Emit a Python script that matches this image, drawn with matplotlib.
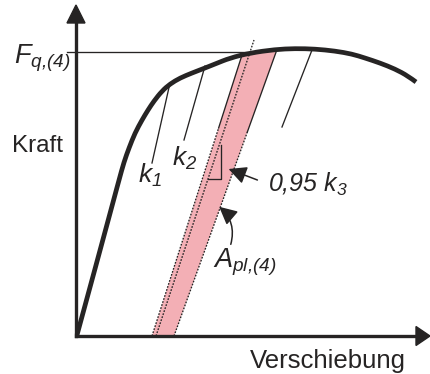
import matplotlib
matplotlib.use("Agg")
import matplotlib.pyplot as plt
import numpy as np
from matplotlib.path import Path
from matplotlib.patches import PathPatch, Polygon, FancyArrowPatch

plt.rcParams["font.family"] = ["Liberation Sans", "DejaVu Sans"]
plt.rcParams["mathtext.fontset"] = "custom"
plt.rcParams["mathtext.it"] = "Liberation Sans:italic"
plt.rcParams["mathtext.rm"] = "Liberation Sans:italic"
plt.rcParams["mathtext.default"] = "it"

# Force-displacement curve (displacement, force) in drawing units
curve_u = [1, 22, 43, 48, 53, 59, 66, 72, 78, 86, 94, 104, 116, 129, 139, 154,
           174, 199, 219, 239, 259, 276, 289, 304, 319, 332, 340]
curve_v = [1, 78, 156, 174, 188, 203, 216, 226, 235, 245, 252, 258, 263, 268,
           272, 278, 283, 286.5, 287.5, 287, 285, 282, 278, 273, 267, 260, 254]

# Load level F_q,(4)
fq_level = 284
fq_span = [-9, 174]

# Unloading stiffness tangents k1, k2 and the third one
tangent_k1 = [(94, 253), (76, 173)]
tangent_k2 = [(129, 270), (108, 196)]
tangent_k3 = [(236, 286), (206, 209)]

# Plastic area band A_pl,(4)
band_left = [(76, 0), (166, 281)]
band_right = [(98, 0), (201, 286.5)]
band_top = [(174, 283), (199, 286.5)]
solid_from = 208  # edges drawn solid above this force level

# Reduced stiffness line 0,95 k3
line_095k3 = [(80, 0), (178, 296)]
slope_triangle = [(132, 157), (145, 157), (145, 191)]

ink = "#262424"
pink = "#f3afb5"

fig = plt.figure(figsize=(4.30, 3.74), dpi=100)
ax = fig.add_axes([0, 0, 1, 1])
ax.set_xlim(-76, 354)
ax.set_ylim(-38, 336)
ax.axis("off")

# pink band
poly = [band_left[0], band_left[1]] + band_top + [band_right[1], band_right[0]]
ax.add_patch(Polygon(poly, closed=True, facecolor=pink, edgecolor="none", zorder=1))


def edge(p0, p1, split):
    (u0, v0), (u1, v1) = p0, p1
    us = u0 + (u1 - u0) * (split - v0) / (v1 - v0)
    ax.plot([u0, us], [v0, split], color=ink, lw=0.95,
            linestyle=(0, (1.3, 1.1)), zorder=2)
    ax.plot([us, u1], [split, v1], color=ink, lw=0.95, zorder=2)


edge(band_left[0], band_left[1], solid_from)
edge(band_right[0], band_right[1], solid_from - 4)

ax.plot([p[0] for p in line_095k3], [p[1] for p in line_095k3], color=ink,
        lw=0.95, linestyle=(0, (1.3, 1.1)), zorder=2)

# slope triangle
ax.plot([slope_triangle[0][0], slope_triangle[1][0], slope_triangle[2][0]],
        [slope_triangle[0][1], slope_triangle[1][1], slope_triangle[2][1]],
        color=ink, lw=0.95, zorder=2)

# tangents
for seg in (tangent_k1, tangent_k2, tangent_k3):
    ax.plot([seg[0][0], seg[1][0]], [seg[0][1], seg[1][1]], color=ink, lw=0.95, zorder=2)

# F_q level line
ax.plot(fq_span, [fq_level, fq_level], color=ink, lw=0.95, zorder=2)

# smooth curve (quadratic B-spline through midpoints)
pts = np.column_stack([curve_u, curve_v])
verts = [pts[0]]
codes = [Path.MOVETO]
for i in range(1, len(pts) - 2):
    mid = (pts[i] + pts[i + 1]) / 2
    verts += [pts[i], mid]
    codes += [Path.CURVE3, Path.CURVE3]
verts += [pts[-2], pts[-1]]
codes += [Path.CURVE3, Path.CURVE3]
ax.add_patch(PathPatch(Path(verts, codes), facecolor="none", edgecolor=ink,
                       lw=3.4, capstyle="butt", joinstyle="round", zorder=4))

# axes with arrow heads
ax.plot([0, 0], [0, 315], color=ink, lw=2.4, solid_capstyle="projecting", zorder=5)
ax.plot([0, 342], [0, 0], color=ink, lw=2.4, solid_capstyle="projecting", zorder=5)
ax.add_patch(Polygon([(-9, 313), (9, 313), (0, 331)], closed=True, color=ink, zorder=5))
ax.add_patch(Polygon([(340, 9.5), (340, -9.5), (354, 0)], closed=True, color=ink, zorder=5))

# annotation arrows
ax.add_patch(FancyArrowPatch((184, 155), (150, 168), arrowstyle="-|>,head_length=6,head_width=3",
                             mutation_scale=1.8, color=ink, lw=1.1, zorder=6))
ax.add_patch(FancyArrowPatch((154, 89), (141, 131), connectionstyle="arc3,rad=0.35",
                             arrowstyle="-|>,head_length=6,head_width=3",
                             mutation_scale=1.8, color=ink, lw=1.1, zorder=6))

# labels
ax.text(-64, 184, "Kraft", fontsize=17.5, color=ink, va="baseline", ha="left")
ax.text(174, -32, "Verschiebung", fontsize=18.5, color=ink, va="baseline", ha="left")
ax.text(-62, 273, r"$F_{q{,}(4)}$", fontsize=19.5, color=ink, va="baseline", ha="left")
ax.text(62, 153, r"$k_1$", fontsize=19, color=ink, va="baseline", ha="left")
ax.text(96, 170, r"$k_2$", fontsize=19, color=ink, va="baseline", ha="left")
ax.text(192, 144, r"$0{,}95\ k_3$", fontsize=18, color=ink, va="baseline", ha="left")
ax.text(137, 68, r"$A_{pl{,}(4)}$", fontsize=19.5, color=ink, va="baseline", ha="left")

fig.savefig("out.png", dpi=100, facecolor="white")
